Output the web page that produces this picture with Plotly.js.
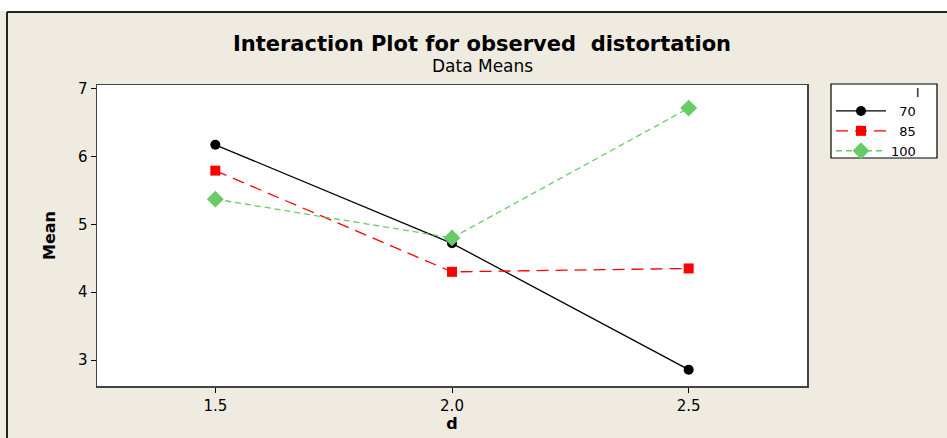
<!DOCTYPE html>
<html>
<head>
<meta charset="utf-8">
<script src="https://cdn.plot.ly/plotly-3.0.1.min.js"></script>
<style>html,body{margin:0;padding:0;background:#EFEBE0;}#chart{width:947px;height:438px;}</style>
</head>
<body>
<div id="chart"></div>
<script>
const dLevels = [1.5, 2.0, 2.5];
const seriesNames = ["70", "85", "100"];
const legendTitle = "I";
const means70 = [6.17, 4.72, 2.86];
const means85 = [5.79, 4.30, 4.35];
const means100 = [5.37, 4.80, 6.71];
const xTicks = [1.5, 2.0, 2.5];
const xTickLabels = ["1.5", "2.0", "2.5"];
const yTicks = [3, 4, 5, 6, 7];

const F = "\u2007";
const pad = s => F.repeat(3 - s.length) + s;
const traces = [
  {x: dLevels, y: means70, name: pad(seriesNames[0]), mode: "lines+markers",
   line: {color: "#000000", width: 1.3, dash: "solid"},
   marker: {symbol: "circle", size: 10, color: "#000000"}},
  {x: dLevels, y: means85, name: pad(seriesNames[1]), mode: "lines+markers",
   line: {color: "#FF0000", width: 1.3, dash: "12px,7px"},
   marker: {symbol: "square", size: 10, color: "#FF0000"}},
  {x: dLevels, y: means100, name: pad(seriesNames[2]), mode: "lines+markers",
   line: {color: "#66CC66", width: 1.3, dash: "6px,4px"},
   marker: {symbol: "diamond", size: 13, color: "#66CC66"}}
];

const W = 710, H = 301, L = 97, T = 85;
const px = v => (v - L) / W;
const py = v => (T + H - v) / H;

const layout = {
  width: 947, height: 438,
  margin: {l: 97, r: 140, t: 85, b: 52},
  paper_bgcolor: "#EFEBE0",
  plot_bgcolor: "#FFFFFF",
  font: {family: "DejaVu Sans, Verdana, sans-serif", color: "#000000", size: 15},
  title: {text: "<b>Interaction Plot for observed  distortation</b>",
    font: {family: "DejaVu Sans, sans-serif", size: 21, color: "#000"},
    x: 482/947, xref: "container", xanchor: "center",
    y: 1 - 44/438, yref: "container", yanchor: "middle"},
  annotations: [
    {text: "Data Means", xref: "paper", yref: "paper", x: px(482), y: py(66),
     xanchor: "center", yanchor: "middle", showarrow: false,
     font: {family: "DejaVu Sans, sans-serif", size: 17}},
    {text: legendTitle, xref: "paper", yref: "paper", x: px(922), y: py(93),
     xanchor: "right", yanchor: "middle", showarrow: false,
     font: {family: "DejaVu Sans, sans-serif", size: 12}}
  ],
  xaxis: {range: [1.25, 2.75], tickvals: xTicks, ticktext: xTickLabels,
    ticks: "outside", ticklen: 5, tickcolor: "#000", showgrid: false, zeroline: false,
    showline: true, linecolor: "#444", linewidth: 1.5, mirror: true,
    tickfont: {size: 15},
    title: {text: "<b>d</b>", font: {size: 16}, standoff: 4}},
  yaxis: {range: [2.62, 7.05], tickvals: yTicks,
    ticks: "outside", ticklen: 5, tickcolor: "#000", showgrid: false, zeroline: false,
    showline: true, linecolor: "#444", linewidth: 1.5, mirror: true,
    tickfont: {size: 15},
    title: {text: "<b>Mean</b>", font: {family: "DejaVu Sans, sans-serif", size: 16}, standoff: 18}},
  showlegend: true,
  legend: {x: px(831), y: py(96), xanchor: "left", yanchor: "top",
    bgcolor: "rgba(0,0,0,0)", borderwidth: 0,
    font: {size: 13}, itemwidth: 50, tracegroupgap: 0},
  shapes: [
    {type: "rect", xref: "paper", yref: "paper", x0: px(-5), x1: px(960), y0: py(11), y1: py(-5),
     fillcolor: "#FFFFFF", line: {width: 0}, layer: "below"},
    {type: "line", xref: "paper", yref: "paper", x0: px(7), x1: px(960), y0: py(12), y1: py(12),
     line: {color: "#222", width: 2}},
    {type: "line", xref: "paper", yref: "paper", x0: px(7), x1: px(7), y0: py(12), y1: py(450),
     line: {color: "#222", width: 2}},
    {type: "rect", xref: "paper", yref: "paper", x0: px(831), x1: px(937), y0: py(84), y1: py(158),
     fillcolor: "#FFFFFF", line: {color: "#000", width: 1.2}, layer: "below"}
  ]
};

Plotly.newPlot("chart", traces, layout, {displayModeBar: false, staticPlot: true});
</script>
</body>
</html>
